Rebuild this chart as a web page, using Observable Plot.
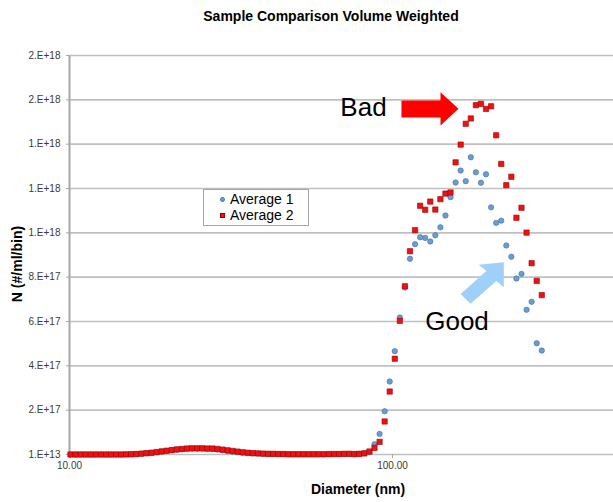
<!DOCTYPE html>
<html><head><meta charset="utf-8">
<script src="https://cdn.jsdelivr.net/npm/d3@7"></script>
<script src="https://cdn.jsdelivr.net/npm/@observablehq/plot@0.6"></script>
<style>
body{margin:0;background:#fff;font-family:Arial,"Liberation Sans",sans-serif;}
#wrap{position:relative;width:613px;height:502px;overflow:hidden;background:#fff;}
#wrap svg{position:absolute;left:0;top:0;}
.lbl{position:absolute;color:#000;white-space:nowrap;line-height:16px;}
#legend{position:absolute;left:203px;top:189px;width:106px;height:37px;box-sizing:border-box;border:1px solid #a6a6a6;background:#fff;padding-top:2px;font-size:14px;line-height:15.5px;color:#000;}
#legend .row{display:flex;align-items:center;}
#legend .mk{display:inline-block;width:5px;height:5px;margin-left:16px;margin-right:5px;box-sizing:border-box;}
</style></head><body><div id="wrap"></div>
<script>
// Diameter bins (nm)
const diameters = [10.07,10.44,10.83,11.22,11.64,12.06,12.51,12.97,13.44,13.94,
14.45,14.98,15.53,16.10,16.70,17.31,17.95,18.61,19.29,20.00,
20.74,21.50,22.29,23.11,23.96,24.84,25.76,26.70,27.69,28.70,
29.76,30.86,31.99,33.17,34.39,35.65,36.96,38.32,39.73,41.19,
42.71,44.28,45.91,47.60,49.35,51.16,53.05,55.00,57.02,59.12,
61.29,63.55,65.89,68.31,70.82,73.43,76.13,78.93,81.83,84.84,
87.96,91.20,94.55,98.03,101.64,105.38,109.25,113.27,117.44,121.76,
126.24,130.89,135.70,140.70,145.87,151.24,156.81,162.58,168.56,174.76,
181.19,187.86,194.77,201.94,209.37,217.07,225.06,233.34,241.93,250.83,
260.06,269.63,279.55,289.84];
// N values in units of 1e17 #/ml/bin
const average1 = [0.0001,0.0001,0.0001,0.0001,0.0001,0.0001,0.0001,0.0001,0.0001,0.0001,
0.0001,0.005,0.01,0.02,0.03,0.05,0.07,0.10,0.13,0.16,
0.19,0.21,0.23,0.25,0.26,0.26,0.26,0.25,0.24,0.22,
0.19,0.15,0.12,0.10,0.08,0.06,0.05,0.04,0.03,0.03,
0.02,0.02,0.02,0.01,0.01,0.01,0.01,0.01,0.01,0.01,
0.01,0.01,0.02,0.02,0.02,0.03,0.02,0.03,0.06,0.11,
0.46,0.93,1.95,3.29,4.66,6.18,7.53,8.83,9.49,9.80,
9.77,9.61,9.89,10.25,10.78,11.61,12.27,12.81,12.33,13.41,
12.73,12.26,12.64,11.15,10.45,10.55,9.43,8.92,7.94,8.15,
6.53,6.89,5.02,4.69];
const average2 = [0.0001,0.0001,0.0001,0.0001,0.0001,0.0001,0.0001,0.0001,0.0001,0.0001,
0.0001,0.005,0.01,0.02,0.04,0.06,0.08,0.11,0.14,0.17,
0.20,0.23,0.25,0.27,0.28,0.28,0.28,0.27,0.27,0.25,
0.22,0.19,0.16,0.13,0.10,0.08,0.06,0.05,0.04,0.03,
0.03,0.02,0.02,0.01,0.01,0.01,0.01,0.01,0.01,0.01,
0.01,0.02,0.02,0.02,0.03,0.03,0.02,0.03,0.05,0.135,
0.30,0.57,1.49,2.84,4.32,6.03,7.59,9.17,10.12,11.22,
11.04,11.41,11.05,11.52,11.77,11.82,13.18,13.98,14.92,15.16,
15.76,15.82,15.59,15.71,14.40,13.11,12.15,12.53,10.68,11.13,
10.01,8.63,7.83,7.19];
const seriesNames = ["Average 1","Average 2"];
const yTicks = [0.0001,2,4,6,8,10,12,14,16,18];
const yTickLabels = ["1.E+13","2.E+17","4.E+17","6.E+17","8.E+17","1.E+18","1.E+18","1.E+18","2.E+18","2.E+18"];
const xTicks = [10,100];
const xTickLabels = ["10.00","100.00"];
const titleText = "Sample Comparison Volume Weighted";
const xTitle = "Diameter (nm)";
const yTitle = "N (#/ml/bin)";
// annotations (data coordinates)
const noteLabels = ["Bad","Good"];
const noteX = [81.3,158.4];
const noteY = [15.65,5.98];
const redArrowX = [106.6,140.8,140.8,160.1,140.8,140.8,106.6];
const redArrowY = [15.97,15.97,16.34,15.60,14.84,15.20,15.20];
const blueArrowX = [162.5,195.3,185.0,221.1,221.1,209.6,174.4];
const blueArrowY = [7.245,8.274,8.558,8.675,7.547,7.827,6.798];

const blueFill = "#6b9dd2", blueStroke = "#41719c";
const redFill = "#ee1111", redStroke = "#a00000";

const rows1 = diameters.map((d,i)=>({d, v: average1[i]}));
const rows2 = diameters.map((d,i)=>({d, v: average2[i]}));
const redArrow = redArrowX.map((x,i)=>({x, y: redArrowY[i]}));
const blueArrow = blueArrowX.map((x,i)=>({x, y: blueArrowY[i]}));
const notes = noteLabels.map((t,i)=>({t, x: noteX[i], y: noteY[i]}));

const chart = Plot.plot({
  width: 613, height: 502,
  marginLeft: 69, marginRight: 0, marginTop: 55, marginBottom: 48,
  x: {type: "log", domain: [10, 483.3]},
  y: {domain: [0, 18]},
  style: {fontFamily: "Arial, 'Liberation Sans', sans-serif", background: "transparent", overflow: "visible"},
  marks: [
    Plot.gridY(yTicks, {stroke: "#c0c0c0", strokeOpacity: 1, strokeWidth: 1.6}),
    Plot.ruleX([10], {stroke: "#a6a6a6", strokeWidth: 2}),
    Plot.axisY(yTicks, {tickFormat: d => yTickLabels[yTicks.indexOf(d)], tickSize: 3, tickPadding: 6, fontSize: 10, color: "#3a3a3a", stroke: "#a6a6a6", label: null}),
    Plot.axisX(xTicks, {tickFormat: d => xTickLabels[xTicks.indexOf(d)], tickSize: 4, tickPadding: 3, fontSize: 10, color: "#3a3a3a", stroke: "#a6a6a6", label: null}),
    Plot.line(redArrow, {x: "x", y: "y", fill: "#ff0000", stroke: "none"}),
    Plot.line(blueArrow, {x: "x", y: "y", fill: "#9fd0f8", stroke: "none"}),
    Plot.text(notes, {x: "x", y: "y", text: "t", fontSize: 26, fill: "#000"}),
    Plot.dot(rows1, {x: "d", y: "v", r: 2.7, fill: blueFill, stroke: blueStroke, strokeWidth: 0.6}),
    Plot.dot(rows2, {x: "d", y: "v", symbol: "square", r: 3.0, fill: redFill, stroke: redStroke, strokeWidth: 0.6})
  ]
});
const wrap = document.getElementById("wrap");
wrap.appendChild(chart);

function addLabel(text, css) {
  const el = document.createElement("div");
  el.className = "lbl";
  el.textContent = text;
  Object.assign(el.style, css);
  wrap.appendChild(el);
  return el;
}
addLabel(titleText, {left: "0px", width: "662px", top: "8px", textAlign: "center", fontWeight: "bold", fontSize: "14px"});
addLabel(xTitle, {left: "0px", width: "716px", top: "481px", textAlign: "center", fontWeight: "bold", fontSize: "14px"});
addLabel(yTitle, {left: "-43px", width: "120px", height: "16px", top: "256px", textAlign: "center", fontWeight: "bold", fontSize: "14px", transform: "rotate(-90deg)", transformOrigin: "60px 8px"});

const legend = document.createElement("div");
legend.id = "legend";
seriesNames.forEach((name, i) => {
  const row = document.createElement("div");
  row.className = "row";
  const mk = document.createElement("span");
  mk.className = "mk";
  if (i === 0) { mk.style.background = blueFill; mk.style.borderRadius = "50%"; mk.style.border = "0.6px solid " + blueStroke; }
  else { mk.style.background = redFill; mk.style.border = "0.6px solid " + redStroke; }
  row.appendChild(mk);
  row.appendChild(document.createTextNode(name));
  legend.appendChild(row);
});
wrap.appendChild(legend);
</script>
</body></html>
